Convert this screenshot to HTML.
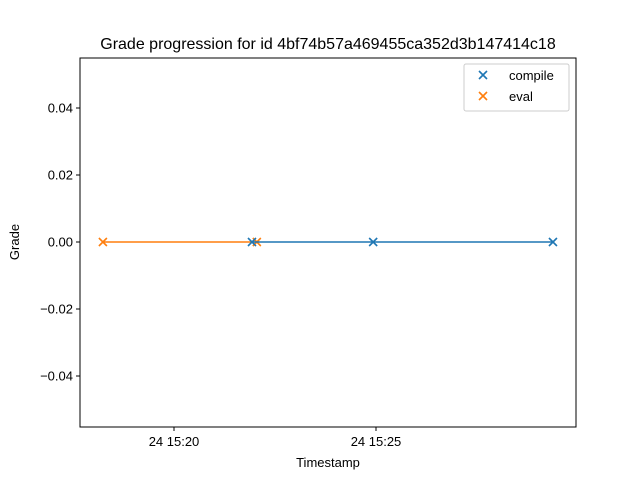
<!DOCTYPE html>
<html><head><meta charset="utf-8"><style>body{margin:0;background:#fff}svg{font-family:"Liberation Sans","DejaVu Sans",sans-serif}</style></head>
<body>
<svg id="chart" width="640" height="480">
<rect width="640" height="480" fill="#fff"/>
<text x="328" y="49" font-size="16" text-anchor="middle">Grade progression for id 4bf74b57a469455ca352d3b147414c18</text>
<g id="plot"></g>
<rect x="80" y="58" width="496" height="369" fill="none" stroke="#000" stroke-width="1"/>
<text x="328" y="467" font-size="13" text-anchor="middle">Timestamp</text>
<text x="19" y="242" font-size="13" text-anchor="middle" transform="rotate(-90 19 242)">Grade</text>
<g>
<rect x="464" y="64" width="105" height="47" rx="2" fill="#fff" stroke="#ccc"/>
<g><path d="M479 71l8 8M487 71l-8 8" stroke="#1f77b4" stroke-width="1.6"/><text x="509" y="80" font-size="13">compile</text></g>
<g><path d="M479 92l8 8M487 92l-8 8" stroke="#ff7f0e" stroke-width="1.6"/><text x="509" y="101" font-size="13">eval</text></g>
</g>
</svg>
<script>
// times in minutes after 15:00
const compileTimes=[21.93,24.93,29.38];
const compileGrades=[0,0,0];
const evalTimes=[18.24,22.05];
const evalGrades=[0,0];
const xTickValues=[20,25];
const xTickLabels=["24 15:20","24 15:25"];
const yTickValues=[0.04,0.02,0,-0.02,-0.04];
const yTickLabels=["0.04","0.02","0.00","\u22120.02","\u22120.04"];
const X=t=>174+(t-20)*40.4;
const Y=v=>242-v*3350;
const NS="http://www.w3.org/2000/svg";
const g=document.getElementById('plot');
function mk(tag,attrs){const e=document.createElementNS(NS,tag);for(const k in attrs)e.setAttribute(k,attrs[k]);g.appendChild(e);return e;}
xTickValues.forEach((v,i)=>{
 const l=mk('line',{x1:X(v),x2:X(v),y1:427,y2:431,stroke:'#000'});
 
 
 const t=mk('text',{x:X(v),y:446,'font-size':13,'text-anchor':'middle'});t.textContent=xTickLabels[i];
 
 
});
yTickValues.forEach((v,i)=>{
 const l=mk('line',{x1:76,x2:80,y1:Y(v),y2:Y(v),stroke:'#000'});
 
 
 const t=mk('text',{x:73,y:Y(v)+4.5,'font-size':13,'text-anchor':'end'});t.textContent=yTickLabels[i];
 
 
});
function series(ts,vs,color,name){
 const p=mk('polyline',{points:ts.map((t,i)=>X(t)+','+Y(vs[i])).join(' '),fill:'none',stroke:color,'stroke-width':1.5});
 
 
 ts.forEach((t,i)=>{const x=X(t),y=Y(vs[i]);
  const m=mk('path',{d:`M${x-4} ${y-4}l8 8M${x+4} ${y-4}l-8 8`,stroke:color,'stroke-width':1.6});
  
  
 });
}
series(evalTimes,evalGrades,'#ff7f0e','eval');
series(compileTimes,compileGrades,'#1f77b4','compile');
</script>
</body></html>
